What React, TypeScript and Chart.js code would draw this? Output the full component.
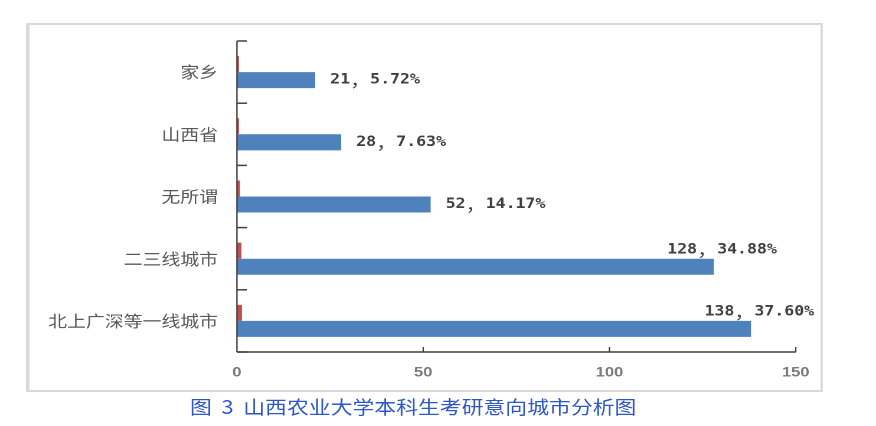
import { useEffect, useRef } from 'react';
import { Chart, registerables } from 'chart.js';

Chart.register(...registerables);

// ---- data ----
const categories = ['家乡', '山西省', '无所谓', '二三线城市', '北上广深等一线城市'];
const counts = [21, 28, 52, 128, 138];
const percents = ['5.72%', '7.63%', '14.17%', '34.88%', '37.60%'];
const shareBars = [0.55, 0.55, 0.8, 1.2, 1.35];
const xMin = 0;
const xMax = 150;
const xStep = 50;
const caption = '图 3 山西农业大学本科生考研意向城市分析图';

const BASE_W = 742;
const SX = 876 / BASE_W;

const MONO = 'bold 14px "DejaVu Sans Mono", monospace';
const CJK = '17px "Noto Sans CJK SC", sans-serif';

const axisPlugin = {
  id: 'axisLines',
  afterDatasetsDraw(chart: any) {
    const { ctx, chartArea: ca, scales } = chart;
    const x = scales.x;
    const y = scales.y;
    ctx.save();
    ctx.strokeStyle = '#404040';
    ctx.lineWidth = 1.2;
    ctx.beginPath();
    ctx.moveTo(ca.left, ca.top);
    ctx.lineTo(ca.left, ca.bottom);
    ctx.stroke();
    ctx.lineWidth = 1.5;
    ctx.beginPath();
    ctx.moveTo(ca.left, ca.bottom);
    ctx.lineTo(ca.right, ca.bottom);
    ctx.stroke();
    const n = categories.length;
    const band = n > 1 ? y.getPixelForValue(1) - y.getPixelForValue(0) : ca.bottom - ca.top;
    ctx.lineWidth = 1.5;
    for (let i = 0; i <= n; i++) {
      const py = (i < n ? y.getPixelForValue(i) : y.getPixelForValue(n - 1) + band) - band / 2;
      ctx.beginPath();
      ctx.moveTo(ca.left, py);
      ctx.lineTo(ca.left + 8.5, py);
      ctx.stroke();
    }
    ctx.lineWidth = 1.2;
    x.ticks.forEach((t: any) => {
      if (t.value <= xMin) return;
      const px = x.getPixelForValue(t.value);
      ctx.beginPath();
      ctx.moveTo(px, ca.bottom);
      ctx.lineTo(px, ca.bottom - 5);
      ctx.stroke();
    });
    ctx.restore();
  },
};

const labelPlugin = {
  id: 'valueLabels',
  afterDatasetsDraw(chart: any) {
    const { ctx, chartArea: ca } = chart;
    const red = chart.getDatasetMeta(0).data;
    const blue = chart.getDatasetMeta(1).data;
    ctx.save();
    ctx.fillStyle = '#404040';
    ctx.textBaseline = 'middle';
    ctx.textAlign = 'left';
    counts.forEach((v, i) => {
      const parts = [
        { t: String(v), f: MONO },
        { t: '，', f: CJK },
        { t: percents[i], f: MONO },
      ];
      const widths = parts.map((p) => {
        ctx.font = p.f;
        return ctx.measureText(p.t).width;
      });
      const total = widths.reduce((a, b) => a + b, 0);
      const b: any = blue[i];
      let sx: number;
      let sy: number;
      if (b.x + 12.7 + total <= ca.right) {
        sx = b.x + 12.7;
        sy = b.y;
      } else {
        sx = b.x + 7 - total / 2;
        sy = (red[i] as any).y - 1;
      }
      parts.forEach((p, k) => {
        ctx.font = p.f;
        ctx.fillText(p.t, sx, sy);
        sx += widths[k];
      });
    });
    ctx.restore();
  },
};

export default function App() {
  const ref = useRef<HTMLCanvasElement>(null);
  useEffect(() => {
    const chart = new Chart(ref.current as HTMLCanvasElement, {
      type: 'bar',
      data: {
        labels: categories,
        datasets: [
          {
            label: '占比',
            data: shareBars,
            backgroundColor: '#C0504D',
            categoryPercentage: 0.515,
            barPercentage: 1,
          },
          {
            label: '人数',
            data: counts,
            backgroundColor: '#4F81BD',
            categoryPercentage: 0.515,
            barPercentage: 1,
          },
        ],
      },
      options: {
        indexAxis: 'y',
        responsive: false,
        animation: false,
        devicePixelRatio: 2,
        layout: { padding: { left: 0, right: 68, top: 41, bottom: 0 } },
        plugins: { legend: { display: false }, tooltip: { enabled: false } },
        scales: {
          x: {
            min: xMin,
            max: xMax,
            ticks: {
              stepSize: xStep,
              padding: 12,
              color: '#7a7a7a',
              font: { family: '"Liberation Sans", Arial, sans-serif', size: 14, weight: 'bold' },
            },
            grid: { display: false, drawTicks: false },
            border: { display: false },
            afterFit: (s: any) => {
              s.height = 74;
            },
          },
          y: {
            ticks: {
              padding: 16,
              color: '#595959',
              font: { family: '"Noto Sans CJK SC", sans-serif', size: 16 },
            },
            grid: { display: false, drawTicks: false },
            border: { display: false },
            afterFit: (s: any) => {
              s.width = 200.7;
            },
          },
        },
      } as any,
      plugins: [axisPlugin, labelPlugin],
    });
    return () => chart.destroy();
  }, []);

  return (
    <div
      style={{
        position: 'absolute',
        left: 0,
        top: 0,
        width: BASE_W,
        height: 426,
        transform: `scaleX(${SX})`,
        transformOrigin: '0 0',
        background: '#ffffff',
      }}
    >
      <div
        style={{
          position: 'absolute',
          left: 22,
          top: 23,
          width: 675,
          height: 369,
          boxSizing: 'border-box',
          borderStyle: 'solid',
          borderColor: '#d9d9d9',
          borderWidth: '2px 2px 2px 3px',
        }}
      />
      <canvas
        ref={ref}
        width={BASE_W}
        height={426}
        style={{ position: 'absolute', left: 0, top: 0, width: BASE_W, height: 426 }}
      />
      <div
        style={{
          position: 'absolute',
          left: 161,
          top: 396,
          lineHeight: '20px',
          fontSize: 18.5,
          fontFamily: '"Noto Sans CJK SC", sans-serif',
          color: '#2E58C6',
          whiteSpace: 'pre',
          wordSpacing: '4px',
        }}
      >
        {caption}
      </div>
    </div>
  );
}
